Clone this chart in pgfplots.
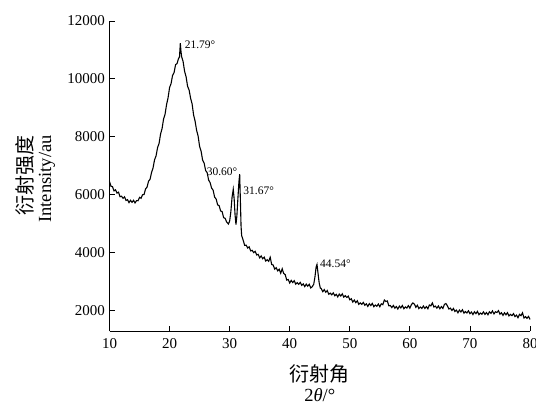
\documentclass[border=0pt]{standalone}
\usepackage{pgfplots}
\pgfplotsset{compat=1.18}
\usepackage{fontspec}
\setmainfont{Liberation Serif}
\newfontfamily\cjk{Noto Sans CJK SC}

% XRD pattern: 2theta (deg) vs. intensity (a.u.)
\pgfplotstableread{
x y
10.00 6450
10.25 6285
10.50 6270
10.75 6125
11.00 6160
11.25 6050
11.50 6080
11.75 5925
12.00 5940
12.25 5870
12.50 5920
12.75 5795
13.00 5820
13.25 5720
13.50 5800
13.75 5730
14.00 5800
14.25 5710
14.50 5790
14.75 5785
15.00 5900
15.25 5870
15.50 5990
15.75 6000
16.00 6190
16.25 6255
16.50 6460
16.75 6525
17.00 6760
17.25 6920
17.50 7200
17.75 7335
18.00 7620
18.25 7765
18.50 8090
18.75 8280
19.00 8610
19.25 8775
19.50 9110
19.75 9345
20.00 9700
20.25 9835
20.50 10120
20.75 10215
21.00 10490
21.25 10530
21.50 10710
21.65 10750
21.79 11230
21.90 10950
22.00 10770
22.25 10600
22.50 10260
22.75 10070
23.00 9740
23.25 9615
23.50 9330
23.75 9135
24.00 8750
24.25 8535
24.50 8220
24.75 8025
25.00 7660
25.25 7495
25.50 7190
25.75 7090
26.00 6830
26.25 6760
26.50 6500
26.75 6410
27.00 6220
27.25 6150
27.50 5910
27.75 5845
28.00 5640
28.25 5615
28.50 5430
28.75 5410
29.00 5200
29.25 5175
29.50 5050
29.80 4980
30.00 5080
30.20 5400
30.40 5900
30.60 6180
30.75 5850
30.90 5300
31.05 4960
31.20 5250
31.40 5950
31.55 6450
31.67 6700
31.80 5700
31.90 4900
32.00 4580
32.25 4420
32.50 4240
32.75 4250
33.00 4150
33.25 4190
33.50 4050
33.75 4070
34.00 3990
34.25 4035
34.50 3910
34.75 3930
35.00 3810
35.25 3875
35.50 3780
35.75 3835
36.00 3700
36.25 3745
36.50 3690
36.75 3830
37.00 3580
37.25 3560
37.50 3420
37.75 3470
38.00 3360
38.25 3415
38.50 3280
38.75 3430
39.00 3270
39.25 3230
39.50 3040
39.75 3060
40.00 2940
40.25 3030
40.50 2955
40.75 3020
41.00 2900
41.25 2950
41.50 2895
41.75 2960
42.00 2860
42.25 2910
42.50 2815
42.75 2900
43.00 2830
43.25 2895
43.50 2770
43.75 2810
44.00 2900
44.20 3150
44.40 3500
44.54 3580
44.70 3300
44.90 2950
45.10 2760
45.25 2750
45.50 2640
45.75 2710
46.00 2620
46.25 2680
46.50 2550
46.75 2590
47.00 2530
47.25 2600
47.50 2500
47.75 2550
48.00 2460
48.25 2555
48.50 2490
48.75 2565
49.00 2450
49.25 2500
49.50 2440
49.75 2485
50.00 2360
50.25 2395
50.50 2280
50.75 2350
51.00 2260
51.25 2325
51.50 2200
51.75 2250
52.00 2200
52.25 2270
52.50 2170
52.75 2220
53.00 2130
53.25 2225
53.50 2160
53.75 2235
54.00 2120
54.25 2178
54.50 2135
54.75 2212
55.00 2120
55.25 2220
55.50 2190
55.75 2350
56.00 2300
56.25 2320
56.50 2150
56.75 2160
57.00 2090
57.25 2165
57.50 2070
57.75 2125
58.00 2040
58.25 2140
58.50 2080
58.75 2160
59.00 2050
59.25 2112
59.50 2075
59.75 2157
60.00 2070
60.25 2190
60.50 2250
60.75 2210
61.00 2100
61.25 2170
61.50 2055
61.75 2108
62.00 2060
62.25 2145
62.50 2060
62.75 2125
63.00 2050
63.25 2180
63.50 2150
63.75 2250
64.00 2110
64.25 2140
64.50 2070
64.75 2145
65.00 2050
65.25 2125
65.50 2060
65.75 2200
66.00 2230
66.25 2150
66.50 2040
66.75 2070
67.00 1990
67.25 2058
67.50 1955
67.75 2003
68.00 1910
68.25 2005
68.50 1940
68.75 2015
69.00 1900
69.25 1953
69.50 1905
69.75 1978
70.00 1880
70.25 1935
70.50 1850
70.75 1945
71.00 1880
71.25 1958
71.50 1845
71.75 1902
72.00 1860
72.25 1942
72.50 1855
72.75 1918
73.00 1840
73.25 1945
73.50 1890
73.75 1975
74.00 1870
74.25 1945
74.50 1920
74.75 1985
75.00 1860
75.25 1910
75.50 1820
75.75 1910
76.00 1840
76.25 1915
76.50 1800
76.75 1855
77.00 1810
77.25 1880
77.50 1780
77.75 1830
78.00 1740
78.25 1855
78.50 1810
78.75 1910
79.00 1730
79.25 1775
79.50 1720
79.75 1785
80.00 1680
}\xrd

\begin{document}
\begin{tikzpicture}
\begin{axis}[
  scale only axis,
  width=420.5pt, height=310pt,
  xmin=10, xmax=80, ymin=1280, ymax=12000,
  axis lines*=left,
  axis line style={-, line width=0.8pt},
  xtick={10,20,...,80},
  ytick={2000,4000,...,12000},
  scaled ticks=false,
  tick align=inside,
  major tick length=5pt,
  tick style={line width=0.8pt, black},
  /pgf/number format/assume math mode=true,
  /pgf/number format/1000 sep={},
  ticklabel style={font=\fontsize{15}{17}\selectfont},
  xticklabel style={yshift=-4pt},
  yticklabel style={xshift=-1pt},
  clip=false,
]
\addplot[black, line width=1.1pt] table[x=x, y=y] {\xrd};

\node[anchor=west, font=\fontsize{11.5}{13}\selectfont, inner sep=0pt] at (axis cs:22.5,11190) {21.79°};
\node[anchor=west, font=\fontsize{11.5}{13}\selectfont, inner sep=0pt] at (axis cs:26.17,6790) {30.60°};
\node[anchor=west, font=\fontsize{11.5}{13}\selectfont, inner sep=0pt] at (axis cs:32.26,6120) {31.67°};
\node[anchor=west, font=\fontsize{11.5}{13}\selectfont, inner sep=0pt] at (axis cs:45.03,3610) {44.54°};

\coordinate (bl) at (rel axis cs:0,0);
\coordinate (tr) at (rel axis cs:1,1);
\coordinate (ml) at (rel axis cs:0,0.5);
\coordinate (mb) at (rel axis cs:0.5,0);
\end{axis}

% axis titles
\node[rotate=90, font=\cjk\fontsize{20}{24}\selectfont] at ([xshift=-84.5pt]ml) {衍射强度};
\node[rotate=90, font=\fontsize{18.5}{22}\selectfont] at ([xshift=-62.5pt,yshift=-3pt]ml) {Intensity/au};
\node[font=\cjk\fontsize{20}{24}\selectfont] at ([yshift=-43pt]mb) {衍射角};
\node[font=\fontsize{18.5}{22}\selectfont] at ([yshift=-64pt]mb) {2{\itshape θ}/°};

\pgfresetboundingbox
\path ([shift={(-109.5pt,-75pt)}]bl) rectangle ([shift={(6pt,21pt)}]tr);
\end{tikzpicture}
\end{document}
